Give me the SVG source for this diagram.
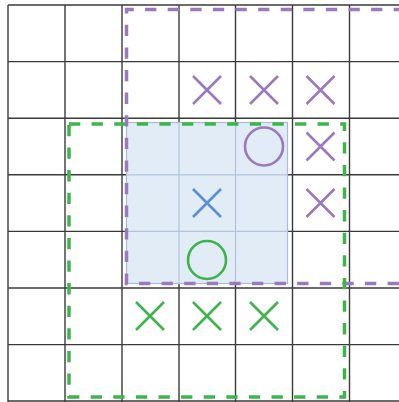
<svg xmlns="http://www.w3.org/2000/svg" width="399" height="402" viewBox="0 0 399 402">
<style>
.grid line{stroke:#3a3a3a;stroke-width:1.4}
.inner line{stroke:#b3c3da;stroke-width:1.2}
.mark{fill:none;stroke-width:2.6;stroke-linecap:butt}
.p{stroke:#9a7abc}
.g{stroke:#3db54a}
.b{stroke:#5a8fd2}
.dash{fill:none;stroke-width:3.5;stroke-dasharray:11.3 11.3}
</style>
<rect x="0" y="0" width="399" height="402" fill="#ffffff"/>
<g class="grid" id="grid">
<line x1="8" y1="5" x2="8" y2="402"/>
<line x1="65" y1="5" x2="65" y2="402"/>
<line x1="122" y1="5" x2="122" y2="402"/>
<line x1="179" y1="5" x2="179" y2="402"/>
<line x1="235.5" y1="5" x2="235.5" y2="402"/>
<line x1="292.5" y1="5" x2="292.5" y2="402"/>
<line x1="349.5" y1="5" x2="349.5" y2="402"/>
<line x1="8" y1="5" x2="399" y2="5"/>
<line x1="8" y1="61.6" x2="399" y2="61.6"/>
<line x1="8" y1="118.2" x2="399" y2="118.2"/>
<line x1="8" y1="174.8" x2="399" y2="174.8"/>
<line x1="8" y1="231.4" x2="399" y2="231.4"/>
<line x1="8" y1="288" x2="399" y2="288"/>
<line x1="8" y1="344.6" x2="399" y2="344.6"/>
<line x1="8" y1="401" x2="399" y2="401"/>
</g>
<g id="highlight">
<rect x="126.5" y="122.5" width="161" height="161" fill="#e1ecf7" stroke="#a9bcd9" stroke-width="1.2"/>
<g class="inner">
<line x1="179" y1="122.5" x2="179" y2="283.5"/>
<line x1="235.5" y1="122.5" x2="235.5" y2="283.5"/>
<line x1="126.5" y1="174.8" x2="287.5" y2="174.8"/>
<line x1="126.5" y1="231.4" x2="287.5" y2="231.4"/>
</g>
</g>
<g id="x-p1" class="mark p"><path d="M193 76 L221 104 M221 76 L193 104"/></g>
<g id="x-p2" class="mark p"><path d="M250 76 L278 104 M278 76 L250 104"/></g>
<g id="x-p3" class="mark p"><path d="M306.5 76 L334.5 104 M334.5 76 L306.5 104"/></g>
<g id="o-p" class="mark p"><circle cx="264" cy="146.5" r="19"/></g>
<g id="x-p4" class="mark p"><path d="M306.5 132.5 L334.5 160.5 M334.5 132.5 L306.5 160.5"/></g>
<g id="x-p5" class="mark p"><path d="M306.5 189 L334.5 217 M334.5 189 L306.5 217"/></g>
<g id="x-b" class="mark b"><path d="M193 189 L221 217 M221 189 L193 217"/></g>
<g id="o-g" class="mark g"><circle cx="207" cy="260" r="19"/></g>
<g id="x-g1" class="mark g"><path d="M136 302 L164 330 M164 302 L136 330"/></g>
<g id="x-g2" class="mark g"><path d="M193 302 L221 330 M221 302 L193 330"/></g>
<g id="x-g3" class="mark g"><path d="M250 302 L278 330 M278 302 L250 330"/></g>
<g id="region-purple"><path class="dash p" d="M405 9.5 L126.5 9.5 L126.5 283.5 L405 283.5"/></g>
<g id="region-green"><rect class="dash g" x="69" y="124" width="275.5" height="273"/></g>
</svg>
